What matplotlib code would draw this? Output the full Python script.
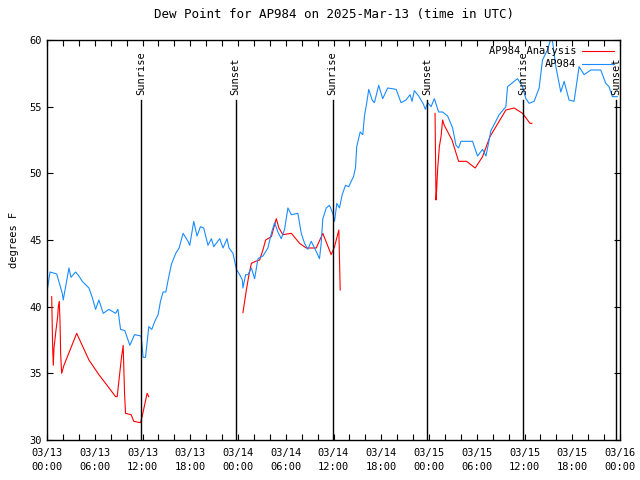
import numpy as np
import pandas as pd
import matplotlib
matplotlib.use("Agg")
import matplotlib.pyplot as plt
import matplotlib.dates as mdates

plt.rcParams['font.family'] = 'DejaVu Sans Mono'
plt.rcParams['font.size'] = 7.5

t0 = pd.Timestamp("2025-03-13 00:00")

# observed dew point (hours after 03/13 00:00 UTC, deg F)
obs_h = [0.0, 0.38, 1.22, 1.92, 2.04, 2.76, 3.01, 3.6, 4.01, 4.43, 5.27, 5.68, 6.11, 6.52,
         7.06, 7.78, 8.62, 8.91, 9.24, 9.78, 10.41, 11.0, 11.83, 12.08, 12.38, 12.79, 13.17,
         13.55, 13.96, 14.26, 14.59, 14.93, 15.22, 15.64, 16.18, 16.6, 17.1, 17.72, 17.94,
         18.44, 18.85, 19.28, 19.69, 20.23, 20.66, 20.95, 21.7, 22.12, 22.62, 22.87, 23.37,
         23.8, 24.21, 24.55, 24.62, 24.96, 25.25, 25.68, 26.09, 26.51, 27.13, 27.76, 28.19,
         28.6, 29.01, 29.44, 29.85, 30.27, 30.7, 31.52, 31.95, 32.36, 32.78, 33.2, 33.62,
         34.24, 34.46, 34.66, 35.09, 35.5, 35.91, 36.13, 36.42, 36.75, 37.09, 37.51, 37.92,
         38.22, 38.51, 38.76, 38.92, 39.35, 39.68, 39.89, 40.18, 40.43, 40.86, 41.14, 41.68,
         42.18, 42.81, 43.87, 44.49, 45.12, 45.62, 45.87, 46.16, 46.7, 47.29, 47.54, 47.83,
         48.26, 48.67, 49.21, 49.71, 50.34, 50.97, 51.39, 51.72, 52.02, 53.47, 54.1, 54.73,
         55.16, 55.78, 56.82, 57.66, 57.87, 58.49, 59.12, 59.75, 60.17, 60.59, 61.21, 61.84,
         62.26, 62.88, 63.43, 63.94, 64.56, 64.98, 65.6, 66.23, 66.86, 67.49, 68.33, 69.58,
         70.21, 70.62, 71.04, 71.66]
obs_dp = [41.1, 42.6, 42.45, 41.0, 40.5, 42.9, 42.2, 42.6, 42.3, 41.9, 41.4, 40.7, 39.8, 40.5,
          39.5, 39.8, 39.5, 39.8, 38.3, 38.2, 37.1, 37.9, 37.8, 36.2, 36.2, 38.5, 38.3,
          38.9, 39.4, 40.4, 41.1, 41.1, 42.0, 43.2, 44.0, 44.4, 45.5, 44.9, 44.6,
          46.4, 45.3, 46.0, 45.9, 44.6, 45.1, 44.5, 45.1, 44.4, 45.1, 44.4, 44.0,
          42.8, 42.4, 42.0, 41.4, 42.4, 42.4, 42.9, 42.1, 43.6, 43.8, 44.4, 45.5,
          46.3, 45.6, 45.1, 45.8, 47.4, 46.9, 47.0, 45.5, 44.75, 44.3, 44.9, 44.4,
          43.6, 44.8, 46.6, 47.4, 47.6, 47.0, 46.4, 47.75, 47.4, 48.4, 49.1, 49.0,
          49.4, 49.75, 50.4, 52.0, 53.1, 52.9, 54.3, 55.3, 56.3, 55.5, 55.3, 56.6,
          55.6, 56.4, 56.3, 55.3, 55.5, 55.9, 55.4, 56.2, 55.8, 55.2, 54.8, 55.3,
          55.0, 55.6, 54.6, 54.6, 54.3, 53.4, 52.1, 51.9, 52.4, 52.4, 51.3, 51.8,
          51.3, 53.2, 54.4, 55.0, 56.5, 56.8, 57.1, 56.5, 55.6, 55.25, 55.4, 56.4,
          58.5, 59.25, 60.3, 58.0, 56.1, 56.9, 55.5, 55.4, 58.0, 57.4, 57.75, 57.75,
          56.75, 56.5, 55.75, 55.75]

# analysis dew point, NaN marks gaps
ana_h = [0.59, 0.71, 0.79, 0.88, 1.13, 1.34, 1.42, 1.54, 1.63, 1.72, 1.84, 2.13, 3.73, 5.27,
         6.52, 7.36, 8.62, 8.82, 9.32, 9.57, 9.75, 9.87, 10.57, 10.91, 11.75, 11.95, 12.58, 12.79,
         12.9,
         24.62, 25.05, 25.38, 25.68, 26.22, 26.72, 27.13, 27.47, 28.19, 28.81, 29.14, 29.64,
         30.7, 31.74, 32.58, 33.83, 34.66, 35.71, 36.13, 36.67, 36.84,
         37.0,
         48.76, 48.88, 48.96, 49.08, 49.3, 49.51, 49.71, 49.92, 50.89, 51.72, 52.72, 53.81,
         54.73, 55.66, 56.41, 57.66, 58.7, 59.75, 60.38, 60.68, 60.93]
ana_dp = [40.75, 37.0, 35.6, 36.9, 38.25, 39.25, 40.0, 40.4, 39.0, 36.4, 35.0, 35.6, 38.0, 36.0,
          34.9, 34.25, 33.25, 33.25, 36.0, 37.1, 33.4, 32.0, 31.9, 31.4, 31.3, 31.75, 33.5, 33.25,
          np.nan,
          39.55, 41.25, 42.4, 43.25, 43.4, 43.5, 44.25, 45.0, 45.25, 46.6, 45.9, 45.4,
          45.5, 44.75, 44.4, 44.4, 45.5, 43.9, 44.5, 45.75, 41.25,
          np.nan,
          54.5, 48.0, 48.75, 50.25, 52.0, 52.75, 54.0, 53.6, 52.5, 50.9, 50.9, 50.4,
          51.25, 52.75, 53.5, 54.75, 54.9, 54.5, 54.0, 53.75, 53.75]

sun_h = [11.79, 23.71, 35.88, 47.79, 59.83, 71.5]
sun_lbl = ["Sunrise", "Sunset", "Sunrise", "Sunset", "Sunrise", "Sunset"]

obs_t = t0 + pd.to_timedelta(obs_h, unit="h")
ana_t = t0 + pd.to_timedelta(ana_h, unit="h")
sun_t = t0 + pd.to_timedelta(sun_h, unit="h")

fig = plt.figure(figsize=(6.4, 4.8), dpi=100)
ax = fig.add_axes([47/640, 40/480, 573/640, 400/480])

ax.plot(ana_t, ana_dp, color="#ff0000", lw=0.8, label="AP984 Analysis")
ax.plot(obs_t, obs_dp, color="#1a8cff", lw=0.8, label="AP984")

for t, lbl in zip(sun_t, sun_lbl):
    ax.axvline(t, ymin=0, ymax=0.85, color="black", lw=1.0)
    ax.text(t, 0.863, lbl, rotation=90, ha="center", va="bottom",
            transform=ax.get_xaxis_transform())

ax.set_xlim(t0, t0 + pd.Timedelta(hours=72))
ax.set_ylim(30, 60)
ax.set_yticks(range(30, 61, 5))
ax.xaxis.set_major_locator(mdates.HourLocator(byhour=range(0, 24, 6)))
ax.xaxis.set_minor_locator(mdates.HourLocator(interval=2))
ax.xaxis.set_major_formatter(mdates.DateFormatter("%m/%d\n%H:%M"))
ax.tick_params(which="both", direction="in", top=True, right=True, length=4, width=0.8)
ax.tick_params(axis="x", pad=6)
for lab in ax.get_xticklabels():
    lab.set_linespacing(1.45)
for s in ax.spines.values():
    s.set_linewidth(1.0)

ax.set_title("Dew Point for AP984 on 2025-Mar-13 (time in UTC)", pad=16)
ax.set_ylabel("degrees F", labelpad=8)

leg = ax.legend(loc="upper right", frameon=False, markerfirst=False, handlelength=3.0,
                borderaxespad=0.2, labelspacing=0.3, handletextpad=0.6)

fig.savefig("out.png", dpi=100)
